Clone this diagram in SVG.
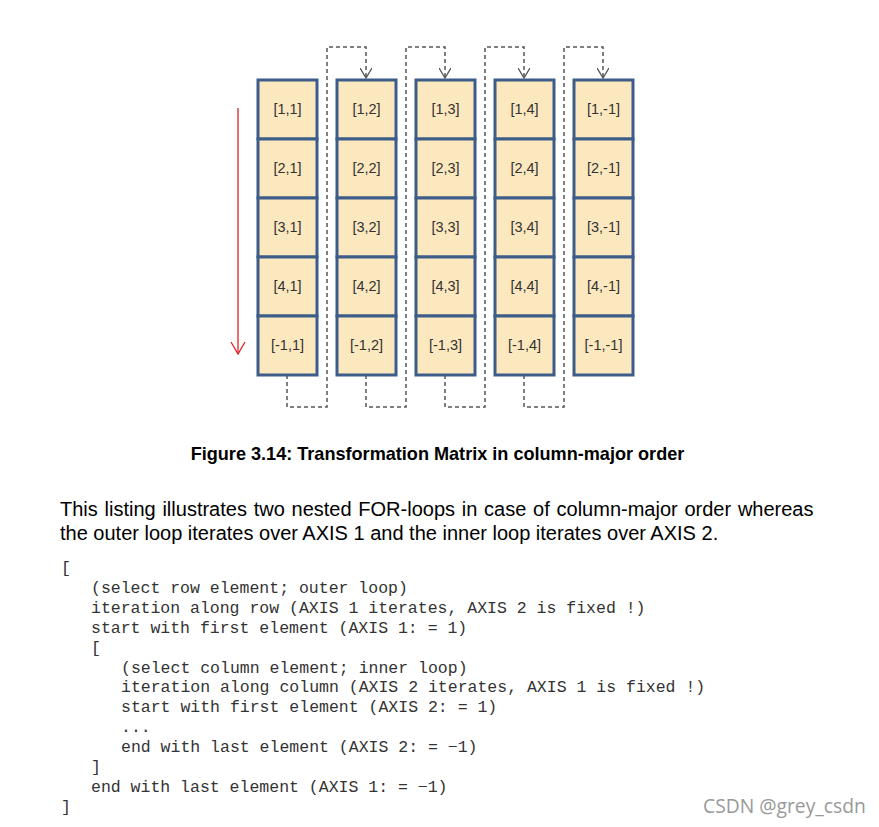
<svg xmlns="http://www.w3.org/2000/svg" width="879" height="827" viewBox="0 0 879 827">
<style>
.cell{fill:#FCE8BF;stroke:#3C5D8A;stroke-width:3}
.ct{font-family:"Liberation Sans",Arial,sans-serif;font-size:14.5px;fill:#333;text-anchor:middle}
.dash{fill:none;stroke:#555;stroke-width:1.5;stroke-dasharray:4,3}
.cap{font-family:"Liberation Sans",Arial,sans-serif;font-size:18.1px;font-weight:bold;fill:#000;text-anchor:middle}
.para{font-family:"Liberation Sans",Arial,sans-serif;font-size:20px;fill:#000}
.code{font-family:"Liberation Mono","Courier New",monospace;font-size:16.5px;fill:#333}
</style>
<defs>
<marker id="vg" markerWidth="12" markerHeight="12" refX="6" refY="10" orient="0" markerUnits="userSpaceOnUse" viewBox="0 0 12 12">
<path d="M0,0 L6,10 L12,0" fill="none" stroke="#555" stroke-width="1.3"/>
</marker>
<marker id="vr" markerWidth="16" markerHeight="14" refX="8" refY="13" orient="0" markerUnits="userSpaceOnUse" viewBox="0 0 16 14">
<path d="M1,1 L8,13 L15,1" fill="none" stroke="#E02020" stroke-width="1.3"/>
</marker>
</defs>
<rect width="879" height="827" fill="#fff"/>
<g id="connectors">
<path class="dash" d="M287 375 V407 H327 V47 H366 V78" marker-end="url(#vg)"/>
<path class="dash" d="M366 375 V407 H406 V47 H445 V78" marker-end="url(#vg)"/>
<path class="dash" d="M445 375 V407 H485 V47 H524 V78" marker-end="url(#vg)"/>
<path class="dash" d="M524 375 V407 H564 V47 H603 V78" marker-end="url(#vg)"/>
<line x1="238" y1="108" x2="238" y2="354" stroke="#E02020" stroke-width="1.3" marker-end="url(#vr)"/>
</g>
<g id="col1">
<rect class="cell" x="258" y="80" width="59" height="59"/><rect class="cell" x="258" y="139" width="59" height="59"/><rect class="cell" x="258" y="198" width="59" height="59"/><rect class="cell" x="258" y="257" width="59" height="59"/><rect class="cell" x="258" y="316" width="59" height="59"/>
<text class="ct" x="287.5" y="114">[1,1]</text><text class="ct" x="287.5" y="173">[2,1]</text><text class="ct" x="287.5" y="232">[3,1]</text><text class="ct" x="287.5" y="291">[4,1]</text><text class="ct" x="287.5" y="350">[-1,1]</text>
</g>
<g id="col2">
<rect class="cell" x="337" y="80" width="59" height="59"/><rect class="cell" x="337" y="139" width="59" height="59"/><rect class="cell" x="337" y="198" width="59" height="59"/><rect class="cell" x="337" y="257" width="59" height="59"/><rect class="cell" x="337" y="316" width="59" height="59"/>
<text class="ct" x="366.5" y="114">[1,2]</text><text class="ct" x="366.5" y="173">[2,2]</text><text class="ct" x="366.5" y="232">[3,2]</text><text class="ct" x="366.5" y="291">[4,2]</text><text class="ct" x="366.5" y="350">[-1,2]</text>
</g>
<g id="col3">
<rect class="cell" x="416" y="80" width="59" height="59"/><rect class="cell" x="416" y="139" width="59" height="59"/><rect class="cell" x="416" y="198" width="59" height="59"/><rect class="cell" x="416" y="257" width="59" height="59"/><rect class="cell" x="416" y="316" width="59" height="59"/>
<text class="ct" x="445.5" y="114">[1,3]</text><text class="ct" x="445.5" y="173">[2,3]</text><text class="ct" x="445.5" y="232">[3,3]</text><text class="ct" x="445.5" y="291">[4,3]</text><text class="ct" x="445.5" y="350">[-1,3]</text>
</g>
<g id="col4">
<rect class="cell" x="495" y="80" width="59" height="59"/><rect class="cell" x="495" y="139" width="59" height="59"/><rect class="cell" x="495" y="198" width="59" height="59"/><rect class="cell" x="495" y="257" width="59" height="59"/><rect class="cell" x="495" y="316" width="59" height="59"/>
<text class="ct" x="524.5" y="114">[1,4]</text><text class="ct" x="524.5" y="173">[2,4]</text><text class="ct" x="524.5" y="232">[3,4]</text><text class="ct" x="524.5" y="291">[4,4]</text><text class="ct" x="524.5" y="350">[-1,4]</text>
</g>
<g id="col5">
<rect class="cell" x="574" y="80" width="59" height="59"/><rect class="cell" x="574" y="139" width="59" height="59"/><rect class="cell" x="574" y="198" width="59" height="59"/><rect class="cell" x="574" y="257" width="59" height="59"/><rect class="cell" x="574" y="316" width="59" height="59"/>
<text class="ct" x="603.5" y="114">[1,-1]</text><text class="ct" x="603.5" y="173">[2,-1]</text><text class="ct" x="603.5" y="232">[3,-1]</text><text class="ct" x="603.5" y="291">[4,-1]</text><text class="ct" x="603.5" y="350">[-1,-1]</text>
</g>
<text class="cap" x="437.5" y="460">Figure 3.14: Transformation Matrix in column-major order</text>
<text class="para" x="60" y="516" word-spacing="1.2">This listing illustrates two nested FOR-loops in case of column-major order whereas</text>
<text class="para" x="60" y="540">the outer loop iterates over AXIS 1 and the inner loop iterates over AXIS 2.</text>
<g class="code">
<text x="61" y="573">[</text>
<text x="91" y="593">(select row element; outer loop)</text>
<text x="91" y="613">iteration along row (AXIS 1 iterates, AXIS 2 is fixed !)</text>
<text x="91" y="633">start with first element (AXIS 1: = 1)</text>
<text x="91" y="653">[</text>
<text x="121" y="673">(select column element; inner loop)</text>
<text x="121" y="692">iteration along column (AXIS 2 iterates, AXIS 1 is fixed !)</text>
<text x="121" y="712">start with first element (AXIS 2: = 1)</text>
<text x="121" y="732">...</text>
<text x="121" y="752">end with last element (AXIS 2: = −1)</text>
<text x="91" y="772">]</text>
<text x="91" y="792">end with last element (AXIS 1: = −1)</text>
<text x="61" y="812">]</text>
</g>
<text x="703" y="813" font-family="'Open Sans','Noto Sans',sans-serif" font-size="19.3" fill="#999">CSDN @grey_csdn</text>
</svg>
